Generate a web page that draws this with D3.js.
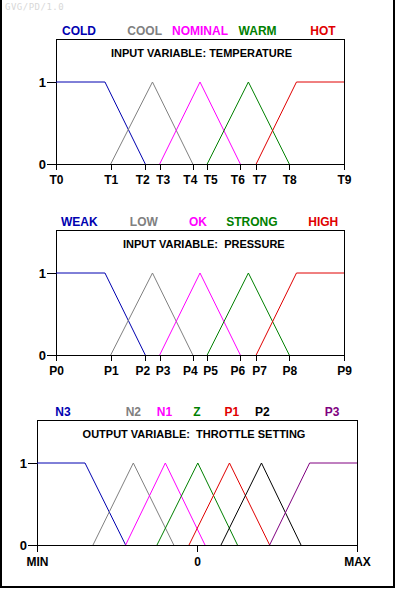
<!DOCTYPE html>
<html><head><meta charset="utf-8">
<script src="https://cdn.jsdelivr.net/npm/d3@7"></script>
<style>
html,body{margin:0;padding:0;background:#fff;}
svg{display:block;}
text{font-family:"Liberation Sans",Arial,sans-serif;font-weight:bold;}
</style></head>
<body>
<script>
// ---------- DATA ----------
const tempSets = ["COLD","COOL","NOMINAL","WARM","HOT"];
const tempColors = ["#0000b0","#808080","#ff00ff","#008000","#e00000"];
const tempLabelAt = [8, 30.8, 50, 70, 92.7];
const tempTickVals = [0,19,31,36,47.5,52.5,64,69.5,81,100];
const tempTickLabels = ["T0","T1","T2","T3","T4","T5","T6","T7","T8","T9"];
const tempCOLD = [[0,1],[17,1],[31,0]];
const tempCOOL = [[19,0],[33.5,1],[47.5,0]];
const tempNOMINAL = [[36,0],[50,1],[64,0]];
const tempWARM = [[52.5,0],[66.8,1],[81,0]];
const tempHOT = [[69.5,0],[83.5,1],[100,1]];

const presSets = ["WEAK","LOW","OK","STRONG","HIGH"];
const presColors = tempColors;
const presLabelAt = [8.1, 30.5, 49.3, 68, 92.8];
const presTickVals = [0,19,31,36,47.5,52.5,64,69.5,81,100];
const presTickLabels = ["P0","P1","P2","P3","P4","P5","P6","P7","P8","P9"];
const presWEAK = [[0,1],[17,1],[31,0]];
const presLOW = [[19,0],[33.5,1],[47.5,0]];
const presOK = [[36,0],[50,1],[64,0]];
const presSTRONG = [[52.5,0],[66.8,1],[81,0]];
const presHIGH = [[69.5,0],[83.5,1],[100,1]];

const outSets = ["N3","N2","N1","Z","P1","P2","P3"];
const outColors = ["#0000b0","#808080","#ff00ff","#008000","#e00000","#000000","#800080"];
const outLabelAt = [-83.8,-39.8,-20.3,0,21.7,40.8,84.4];
const outTickVals = [-100,0,100];
const outTickLabels = ["MIN","0","MAX"];
const outN3 = [[-100,1],[-70,1],[-44.6,0]];
const outN2 = [[-65,0],[-39.8,1],[-14.5,0]];
const outN1 = [[-44.6,0],[-19.8,1],[5,0]];
const outZ = [[-25,0],[0.5,1],[25.3,0]];
const outP1 = [[-5,0],[20.3,1],[45.4,0]];
const outP2 = [[15,0],[40.3,1],[65,0]];
const outP3 = [[45.4,0],[70.4,1],[100,1]];

const yTickVals = [0,1];
const yTickLabels = ["0","1"];

// ---------- DRAW ----------
const W = 399, H = 589;
const svg = d3.select("body").append("svg").attr("width", W).attr("height", H);

svg.append("text").attr("x", 5).attr("y", 10)
  .style("font-family", "'DejaVu Sans Mono',monospace").style("font-weight","normal")
  .style("font-size", "9px").style("letter-spacing", "0.5px").attr("fill", "#d8d8d8").text("GVG/PD/1.0");

svg.append("rect").attr("x", 1).attr("y", -6).attr("width", 393).attr("height", 593)
  .attr("fill", "none").attr("stroke", "#000").attr("stroke-width", 2);

function panel(cfg) {
  const x = d3.scaleLinear().domain(cfg.domain).range([cfg.left, cfg.right]);
  const y = d3.scaleLinear().domain([0, 1]).range([cfg.y0, cfg.y1]);
  const g = svg.append("g");

  // box top & right
  g.append("path")
    .attr("d", `M${cfg.left},${cfg.top + 0.5}H${cfg.right + 0.5}V${cfg.y0}`)
    .attr("fill", "none").attr("stroke", "#000").attr("stroke-width", 1)
    .attr("shape-rendering", "crispEdges");

  // x axis
  const xa = g.append("g").attr("transform", `translate(0,${cfg.y0})`)
    .call(d3.axisBottom(x).tickValues(cfg.ticks)
      .tickFormat((d, i) => cfg.tickLabels[i]).tickSizeInner(cfg.xTick).tickSizeOuter(0).tickPadding(5));
  xa.select(".domain").attr("stroke", "#000").attr("shape-rendering", "crispEdges");
  xa.selectAll(".tick line").attr("stroke", "#000").attr("shape-rendering", "crispEdges");
  const px = cfg.ticks.map(v => x(v));
  xa.selectAll(".tick text").attr("fill", "#000").style("font-size", "12px")
    .style("font-family", "'Liberation Sans',Arial,sans-serif").attr("font-weight", "bold")
    .attr("dx", (d, i) => {
      // spread apart labels of ticks that sit close together
      if (i + 1 < px.length && px[i + 1] - px[i] < 20) return -3;
      if (i > 0 && px[i] - px[i - 1] < 20) return 3;
      return 0;
    });

  // y axis
  const ya = g.append("g").attr("transform", `translate(${cfg.left},0)`)
    .call(d3.axisLeft(y).tickValues(yTickVals)
      .tickFormat((d, i) => yTickLabels[i]).tickSizeInner(9).tickSizeOuter(0).tickPadding(1));
  ya.select(".domain").attr("stroke", "#000").attr("shape-rendering", "crispEdges")
    .attr("d", `M0.5,${cfg.y0 + cfg.xTick}V${cfg.top}`);
  ya.selectAll(".tick line").attr("stroke", "#000").attr("shape-rendering", "crispEdges");
  ya.selectAll(".tick text").attr("fill", "#000").style("font-size", "13px").style("font-family", "'Liberation Sans',Arial,sans-serif").attr("font-weight", "bold");

  // membership functions
  const line = d3.line().x(d => x(d[0])).y(d => y(d[1]));
  cfg.series.forEach((s, i) => {
    g.append("path").attr("d", line(s)).attr("fill", "none")
      .attr("stroke", cfg.colors[i]).attr("stroke-width", 1);
  });

  // set labels
  cfg.names.forEach((n, i) => {
    g.append("text").attr("x", x(cfg.labelAt[i])).attr("y", cfg.top - 4.5)
      .attr("text-anchor", "middle").attr("fill", cfg.colors[i])
      .style("font-size", "12px").text(n);
  });

  // title
  g.append("text").attr("x", cfg.titleX).attr("y", cfg.top + 17.5)
    .attr("text-anchor", "middle").attr("fill", "#000")
    .style("font-size", "11px").style("white-space", "pre").attr("xml:space", "preserve")
    .text(cfg.title);
}

panel({
  domain: [0, 100], left: 56, right: 344, top: 39, y1: 82, y0: 164, xTick: 6,
  ticks: tempTickVals, tickLabels: tempTickLabels,
  series: [tempCOLD, tempCOOL, tempNOMINAL, tempWARM, tempHOT],
  colors: tempColors, names: tempSets, labelAt: tempLabelAt,
  title: "INPUT VARIABLE: TEMPERATURE", titleX: 201.5
});

panel({
  domain: [0, 100], left: 56, right: 344, top: 230, y1: 273, y0: 355, xTick: 6,
  ticks: presTickVals, tickLabels: presTickLabels,
  series: [presWEAK, presLOW, presOK, presSTRONG, presHIGH],
  colors: presColors, names: presSets, labelAt: presLabelAt,
  title: "INPUT VARIABLE:  PRESSURE", titleX: 203.8
});

panel({
  domain: [-100, 100], left: 37, right: 357, top: 420, y1: 463, y0: 545, xTick: 7,
  ticks: outTickVals, tickLabels: outTickLabels,
  series: [outN3, outN2, outN1, outZ, outP1, outP2, outP3],
  colors: outColors, names: outSets, labelAt: outLabelAt,
  title: "OUTPUT VARIABLE:  THROTTLE SETTING", titleX: 194
});
</script>
</body></html>
